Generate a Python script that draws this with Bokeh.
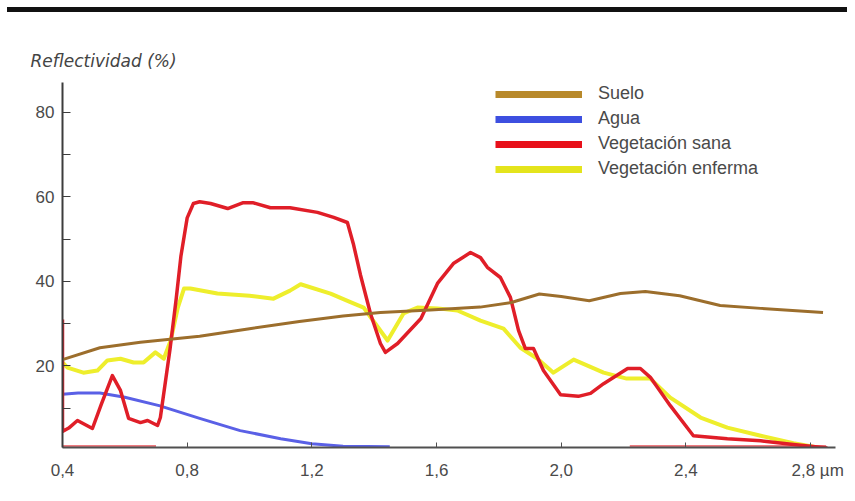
from bokeh.plotting import figure
from bokeh.layouts import column
from bokeh.models import (FixedTicker, Legend, LegendItem, Range1d, Div)
from bokeh.embed import file_html
from bokeh.resources import INLINE

# ---------------- data ----------------
x_ticks = [0.4, 0.8, 1.2, 1.6, 2.0, 2.4, 2.8]
x_tick_labels = ["0,4", "0,8", "1,2", "1,6", "2,0", "2,4", "\u00a0\u00a0\u00a02,8 µm"]
y_ticks = [20, 40, 60, 80]
y_minor_ticks = [10, 30, 50, 70]

y_title = "Reflectividad (%)"
series_names = ["Suelo", "Agua", "Vegetación sana", "Vegetación enferma"]

suelo_x = [0.40, 0.52, 0.65, 0.84, 1.00, 1.16, 1.30, 1.42, 1.58, 1.74, 1.84, 1.93,
           2.00, 2.09, 2.19, 2.27, 2.38, 2.51, 2.64, 2.84]
suelo_y = [21.5, 24.3, 25.6, 27.0, 28.8, 30.5, 31.8, 32.6, 33.2, 33.9, 35.0, 37.0,
           36.4, 35.4, 37.1, 37.6, 36.6, 34.3, 33.6, 32.6]

agua_x = [0.40, 0.45, 0.52, 0.60, 0.71, 0.84, 0.97, 1.10, 1.20, 1.30, 1.45]
agua_y = [13.3, 13.6, 13.6, 12.6, 10.6, 7.6, 4.7, 2.8, 1.6, 1.0, 0.9]

sana_x = [0.400, 0.400, 0.420, 0.448, 0.496, 0.525, 0.560, 0.586, 0.612, 0.650,
          0.673, 0.705, 0.714, 0.745, 0.765, 0.780, 0.800, 0.820, 0.840, 0.875,
          0.930, 0.980, 1.010, 1.067, 1.130, 1.218, 1.270, 1.314, 1.333, 1.356,
          1.388, 1.420, 1.436, 1.475, 1.550, 1.603, 1.654, 1.709, 1.741, 1.763,
          1.805, 1.837, 1.863, 1.885, 1.911, 1.943, 1.998, 2.055, 2.094, 2.136,
          2.213, 2.254, 2.286, 2.350, 2.424, 2.533, 2.640, 2.745, 2.854]
sana_y = [31.0, 4.5, 5.3, 7.1, 5.2, 11.0, 17.7, 14.2, 7.6, 6.6,
          7.1, 5.9, 7.8, 24.0, 36.0, 46.0, 55.0, 58.4, 58.8, 58.4,
          57.2, 58.6, 58.6, 57.4, 57.4, 56.3, 55.1, 53.9, 48.9, 41.5,
          32.4, 25.3, 23.2, 25.3, 31.2, 39.5, 44.2, 46.8, 45.6, 43.3,
          40.9, 36.2, 28.4, 24.1, 24.1, 18.9, 13.2, 12.8, 13.5, 15.8,
          19.4, 19.4, 17.3, 10.6, 3.5, 2.8, 2.3, 1.4, 0.6]

# red trace drawn along the base of the chart in the original
sana_base_x = [0.40, 0.70, float("nan"), 2.22, 2.85]
sana_base_y = [1.0, 1.0, float("nan"), 1.0, 1.0]

enferma_x = [0.400, 0.416, 0.467, 0.512, 0.544, 0.586, 0.628, 0.660, 0.698, 0.725,
             0.747, 0.770, 0.790, 0.810, 0.897, 1.000, 1.077, 1.130, 1.164, 1.260,
             1.320, 1.366, 1.443, 1.494, 1.539, 1.603, 1.667, 1.741, 1.815, 1.869,
             1.924, 1.975, 2.040, 2.136, 2.210, 2.286, 2.350, 2.447, 2.533, 2.640,
             2.745, 2.854]
enferma_y = [20.8, 19.6, 18.4, 18.9, 21.3, 21.7, 20.8, 20.8, 23.2, 21.7,
             26.0, 33.8, 38.3, 38.3, 37.1, 36.6, 35.9, 37.8, 39.3, 37.1,
             35.2, 33.8, 26.0, 32.4, 33.8, 33.6, 33.1, 30.7, 28.8, 24.3,
             21.7, 18.4, 21.5, 18.4, 17.0, 17.0, 12.5, 7.8, 5.4, 3.5,
             1.7, 0.3]

# ---------------- figure ----------------
TOP = 12  # height taken by the black bar strip above the figure
p = figure(width=847, height=493 - TOP, output_backend="svg", toolbar_location=None,
           x_range=Range1d(0.4, 2.88), y_range=Range1d(0.71, 87.0),
           min_border_left=62, min_border_right=12, min_border_top=82 - TOP,
           min_border_bottom=46, background_fill_color="white",
           border_fill_color="white")
p.xgrid.visible = False
p.ygrid.visible = False
p.outline_line_color = None

FONT = "Liberation Sans"
TXT = "#4a4a4a"

p.title.text = y_title
p.title.align = "left"
p.title.offset = -32
p.title.text_font = "DejaVu Sans"
p.title.text_font_style = "italic"
p.title.text_font_size = "17px"
p.title.text_color = "#444444"
p.title.standoff = 23

xa = p.xaxis[0]
xa.ticker = FixedTicker(ticks=x_ticks)
xa.major_label_overrides = {t: s for t, s in zip(x_ticks, x_tick_labels)}
xa.axis_line_color = "#505050"
xa.axis_line_width = 2
xa.major_tick_in = 5
xa.major_tick_out = 0
xa.major_tick_line_color = "#505050"
xa.minor_tick_line_color = None
xa.major_label_standoff = 13
xa.major_label_text_font = FONT
xa.major_label_text_font_size = "17px"
xa.major_label_text_color = TXT

ya = p.yaxis[0]
ya.ticker = FixedTicker(ticks=y_ticks, minor_ticks=y_minor_ticks)
ya.axis_line_color = "#3c3c3c"
ya.axis_line_width = 2
ya.major_tick_in = 8
ya.major_tick_out = 0
ya.minor_tick_in = 8
ya.minor_tick_out = 0
ya.major_tick_line_color = "#3c3c3c"
ya.minor_tick_line_color = "#3c3c3c"
ya.major_label_standoff = 8
ya.major_label_text_font = FONT
ya.major_label_text_font_size = "17px"
ya.major_label_text_color = TXT

# ---------------- lines ----------------
p.line(enferma_x, enferma_y, line_color="#eeee2c", line_width=4, line_join="round")
p.line(agua_x, agua_y, line_color="#5a60e6", line_width=3, line_join="round")
p.line(sana_base_x, sana_base_y, line_color="#e85a60", line_width=2.5, line_alpha=0.8)
p.line(sana_x, sana_y, line_color="#e01e28", line_width=3.5, line_join="round")
p.line(suelo_x, suelo_y, line_color="#9c6e2c", line_width=3, line_join="round")

# legend entries (thicker strokes than the plotted lines)
leg_colors = ["#b8892a", "#3d4fe0", "#e8101a", "#e4e41c"]
items = []
for name, c in zip(series_names, leg_colors):
    r = p.line([float("nan")], [float("nan")], line_color=c, line_width=7)
    items.append(LegendItem(label=name, renderers=[r]))
legend = Legend(items=items, location=(433, 268), glyph_width=87, glyph_height=20,
                label_height=20, spacing=4, label_standoff=16, padding=0, margin=0,
                border_line_alpha=0, background_fill_alpha=0,
                label_text_font=FONT, label_text_font_size="18px",
                label_text_color=TXT)
p.add_layout(legend, "center")

# black rule across the top of the picture
bar = Div(text="", width=840, height=5, margin=(7, 0, 0, 7),
          styles={"background-color": "#111111"})

layout = column(bar, p, spacing=0)
open("out.html", "w").write(file_html(layout, INLINE))
